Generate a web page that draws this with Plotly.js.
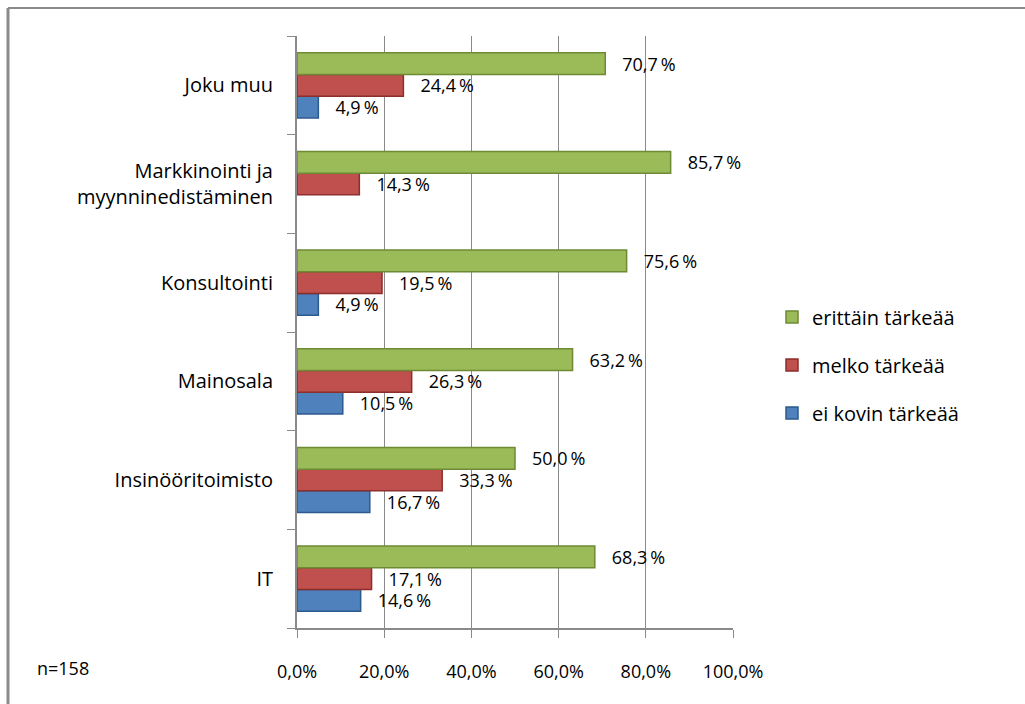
<!DOCTYPE html>
<html>
<head>
<meta charset="utf-8">
<script src="https://cdn.plot.ly/plotly-3.0.1.min.js"></script>
<style>
  body { margin: 0; background: #fff; }
  #chart { width: 1025px; height: 704px; }
</style>
</head>
<body>
<div id="chart"></div>
<script>
// toimialat alhaalta ylös (Plotly piirtää vaaka-akselin kategoriat alhaalta)
const toimialat = ["IT", "Insinööritoimisto", "Mainosala", "Konsultointi",
    "Markkinointi ja<br>myynninedistäminen", "Joku muu"];

// prosenttiosuudet
const erittainTarkeaa = [68.3, 50.0, 63.2, 75.6, 85.7, 70.7];
const melkoTarkeaa = [17.1, 33.3, 26.3, 19.5, 14.3, 24.4];
const eiKovinTarkeaa = [14.6, 16.7, 10.5, 4.9, null, 4.9];

const sarjat = [
    { nimi: "ei kovin tärkeää", arvot: eiKovinTarkeaa, vari: "#4F81BD", reuna: "#2C5A8E" },
    { nimi: "melko tärkeää", arvot: melkoTarkeaa, vari: "#C0504D", reuna: "#8C2E2B" },
    { nimi: "erittäin tärkeää", arvot: erittainTarkeaa, vari: "#9BBB59", reuna: "#6E8A34" }
];

const fontti = "'Open Sans', sans-serif";

const traces = sarjat.map((s, i) => ({
    type: "bar",
    orientation: "h",
    name: s.nimi,
    legendgroup: "g" + i,
    legendrank: 3 - i,
    y: toimialat,
    x: s.arvot,
    marker: { color: s.vari, line: { color: s.reuna, width: 1.5 } },
    texttemplate: "\u00A0\u00A0\u00A0%{x:.1f}\u2009%",
    textposition: "outside",
    constraintext: "none",
    cliponaxis: false,
    textfont: { family: fontti, size: 18, color: "#000" },
    hoverinfo: "x+y+name"
}));

// kehys vasemmalla ja ylhäällä
const px = v => (v - 297) / 436;
const py = v => (628 - v) / 592;

const layout = {
    width: 1025,
    height: 704,
    margin: { l: 297, r: 292, t: 36, b: 76 },
    paper_bgcolor: "#fff",
    plot_bgcolor: "#fff",
    separators: ", ",
    barmode: "group",
    bargap: 0.34,
    bargroupgap: 0,
    showlegend: true,
    font: { family: fontti, size: 17, color: "#000" },
    xaxis: {
        range: [0, 100],
        dtick: 20,
        tickformat: ".1f",
        ticksuffix: "%",
        showgrid: true,
        gridcolor: "#8A8A8A",
        gridwidth: 1,
        zeroline: false,
        showline: true,
        linecolor: "#8A8A8A",
        linewidth: 2,
        ticks: "outside",
        ticklen: 8,
        tickcolor: "#8A8A8A",
        ticklabelstandoff: 18,
        tickfont: { family: fontti, size: 18, color: "#000" },
        fixedrange: true
    },
    yaxis: {
        type: "category",
        categoryorder: "array",
        categoryarray: toimialat,
        showline: true,
        linecolor: "#8A8A8A",
        linewidth: 2,
        ticks: "outside",
        tickson: "boundaries",
        ticklen: 8,
        tickcolor: "#8A8A8A",
        ticklabelstandoff: 18,
        tickfont: { family: fontti, size: 20, color: "#000" },
        showgrid: false,
        fixedrange: true
    },
    legend: {
        x: px(772),
        y: py(365),
        xanchor: "left",
        yanchor: "middle",
        traceorder: "grouped",
        tracegroupgap: 19,
        font: { family: fontti, size: 20, color: "#000" },
        bgcolor: "rgba(0,0,0,0)",
        itemclick: false
    },
    annotations: [{
        xref: "paper", yref: "paper",
        x: px(35), y: py(668),
        xanchor: "left", yanchor: "middle",
        text: "n=158",
        showarrow: false,
        font: { family: fontti, size: 18, color: "#000" }
    }],
    shapes: [
        { type: "line", xref: "paper", yref: "paper",
          x0: px(8), x1: px(1025), y0: py(8), y1: py(8),
          line: { color: "#8A8A8A", width: 2 } },
        { type: "line", xref: "paper", yref: "paper",
          x0: px(8), x1: px(8), y0: py(8), y1: py(704),
          line: { color: "#8A8A8A", width: 3 } }
    ]
};

Plotly.newPlot("chart", traces, layout, { displayModeBar: false, staticPlot: true });
</script>
</body>
</html>
